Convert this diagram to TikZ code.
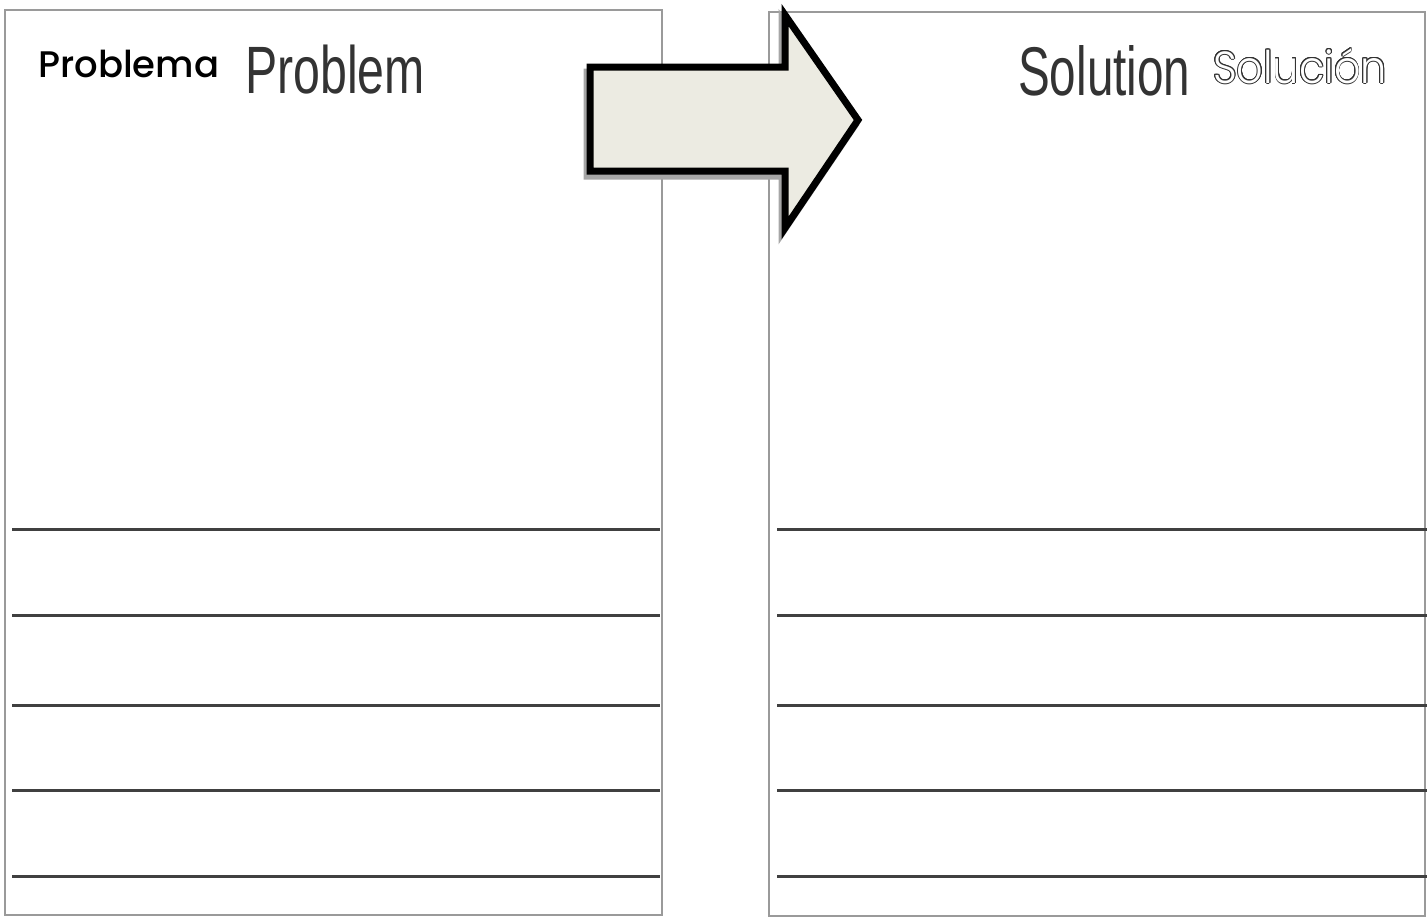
\documentclass[tikz,border=0pt]{standalone}
\usepackage{fontspec}
\usepackage{contour}
\usepackage{graphicx}

\newfontfamily\gothic{Poppins}[UprightFont=* Medium]
\newfontfamily\gothiclight{Poppins Light}
\newfontfamily\narrow{Liberation Sans}
\contourlength{1pt}

\definecolor{cadre}{HTML}{9A9A9A}
\definecolor{trait}{HTML}{404040}
\definecolor{fleche}{HTML}{ECEBE2}

\tikzset{
  frame/.style={draw=cadre, line width=2.5pt},
  ligne/.style={draw=trait, line width=3pt},
  titre/.style={inner sep=0pt, anchor=base west}
}

\begin{document}
\begin{tikzpicture}[x=1pt,y=-1pt]
\useasboundingbox (0,0) rectangle (1427,918);

% Cadre gauche
\draw[frame] (5,10) rectangle (662,915);

% Cadre droit
\draw[frame] (769,12) rectangle (1425,916);

% Lignes gauche
\draw[ligne] (12,529) -- (660,529);
\draw[ligne] (12,615) -- (660,615);
\draw[ligne] (12,705) -- (660,705);
\draw[ligne] (12,790) -- (660,790);
\draw[ligne] (12,876) -- (660,876);

% Lignes droite
\draw[ligne] (777,529) -- (1427,529);
\draw[ligne] (777,615) -- (1427,615);
\draw[ligne] (777,705) -- (1427,705);
\draw[ligne] (777,790) -- (1427,790);
\draw[ligne] (777,876) -- (1427,876);

% Fleche (ombre)
\draw[gray!70, fill=gray!70, line width=7pt, line join=miter]
  (587,72) -- (782,72) -- (782,20) -- (855,125) -- (782,233) -- (782,176) -- (587,176) -- cycle;

% Fleche
\draw[black, fill=fleche, line width=7pt, line join=miter]
  (590,67) -- (785,67) -- (785,15) -- (858,120) -- (785,228) -- (785,171) -- (590,171) -- cycle;

% Titres
\node[titre] (problema) at (38,77) {\gothic\fontsize{37}{37}\selectfont Problema};
\node[titre, text=black!80] (problem) at (245,93)
  {\narrow\fontsize{67}{67}\selectfont\scalebox{0.72}[1]{Problem}};
\node[titre, text=black!80] (solution) at (1018,95)
  {\narrow\fontsize{69}{69}\selectfont\scalebox{0.69}[1]{Solution}};
\node[titre] (solucion) at (1213,83)
  {\gothiclight\fontsize{45}{45}\selectfont\scalebox{0.92}[1]{\contour{black!80}{\textcolor{white}{Solución}}}};

\end{tikzpicture}
\end{document}
